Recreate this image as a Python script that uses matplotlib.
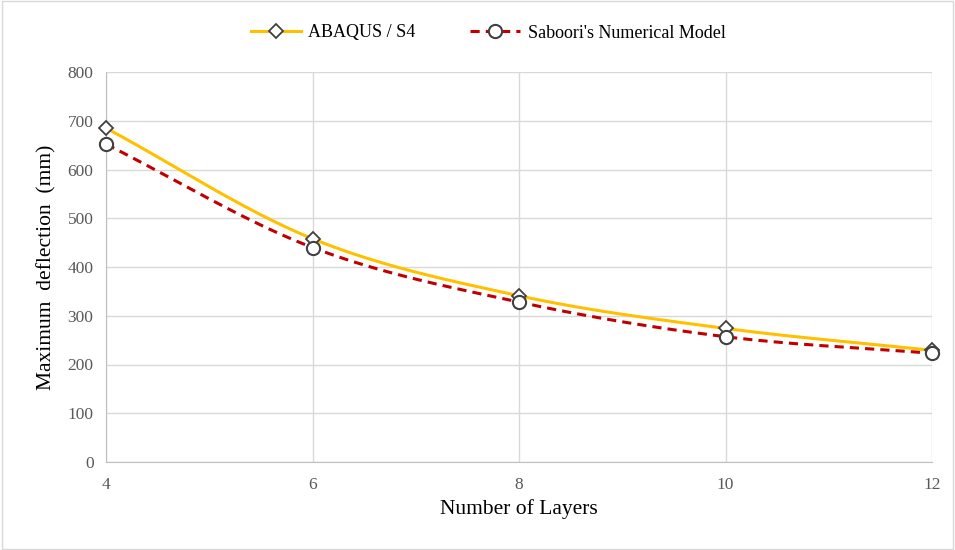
import numpy as np
import matplotlib
matplotlib.use('Agg')
import matplotlib.pyplot as plt
from matplotlib.lines import Line2D

layers = [4, 6, 8, 10, 12]
abaqus = [685, 458, 341, 274, 229]
saboori = [652, 440, 328, 257, 223]


def smooth(x, y, n=40):
    # Catmull-Rom spline through the points (Excel style smoothed line)
    x = np.asarray(x, float)
    y = np.asarray(y, float)
    px = np.concatenate([[2 * x[0] - x[1]], x, [2 * x[-1] - x[-2]]])
    py = np.concatenate([[2 * y[0] - y[1]], y, [2 * y[-1] - y[-2]]])
    xs, ys = [], []
    t = np.linspace(0, 1, n)
    for i in range(1, len(px) - 2):
        for p, out in ((px, xs), (py, ys)):
            p0, p1, p2, p3 = p[i - 1], p[i], p[i + 1], p[i + 2]
            out.extend(0.5 * ((2 * p1) + (-p0 + p2) * t
                              + (2 * p0 - 5 * p1 + 4 * p2 - p3) * t ** 2
                              + (-p0 + 3 * p1 - 3 * p2 + p3) * t ** 3))
    return np.array(xs), np.array(ys)


plt.rcParams['font.family'] = ['Liberation Serif', 'DejaVu Serif']

fig = plt.figure(figsize=(9.55, 5.5), dpi=100)
ax = fig.add_axes([106 / 955, 1 - 462 / 550, (932 - 106) / 955, 390 / 550])

gold = '#FFC000'
red = '#C00000'
mk = '#404040'

sx, sy = smooth(layers, abaqus)
ax.plot(sx, sy, color=gold, lw=2.2, zorder=3, clip_on=False)
ax.plot(layers, abaqus, ls='none', marker='D', ms=7.5, mfc='white', mec=mk, mew=1.3,
        zorder=5, clip_on=False)

sx, sy = smooth(layers, saboori)
ax.plot(sx, sy, color=red, lw=2.2, ls=(0, (3, 2)), zorder=3, clip_on=False)
ax.plot(layers, saboori, ls='none', marker='o', ms=9.5, mfc='white', mec=mk, mew=1.5,
        zorder=6, clip_on=False)

ax.set_xlim(4, 12)
ax.set_ylim(0, 800)
ax.set_xticks(layers)
ax.set_yticks(range(0, 801, 100))
ax.grid(True, color='#d9d9d9', lw=1)
ax.set_axisbelow(True)
for s in ['top', 'right']:
    ax.spines[s].set_visible(False)
for s in ['left', 'bottom']:
    ax.spines[s].set_color('#bfbfbf')
ax.tick_params(length=0, labelsize=12.5, labelcolor='#595959', pad=9)
ax.tick_params(axis='x', pad=11)
ax.set_xlabel('Number of Layers', fontsize=15.5, labelpad=4)
ax.set_ylabel('Maximum  deflection  (mm)', fontsize=15.5, labelpad=8)

handles = [
    Line2D([], [], color=gold, lw=2.2, marker='D', ms=7.5, mfc='white', mec=mk, mew=1.3),
    Line2D([], [], color=red, lw=2.2, ls=(0, (3, 2)), marker='o', ms=9.5, mfc='white', mec=mk, mew=1.5),
]
fig.legend(handles, ['ABAQUS / S4', "Saboori's Numerical Model"], loc='center',
           bbox_to_anchor=(0.511, 1 - 33 / 550), ncol=2, frameon=False, fontsize=13,
           handlelength=2.8, handletextpad=0.4, columnspacing=3.0)

fig.patches.append(plt.Rectangle((0.002, 0.002), 0.996, 0.996, transform=fig.transFigure,
                                 fill=False, ec='#d9d9d9', lw=1))

fig.savefig('out.png', dpi=100)
